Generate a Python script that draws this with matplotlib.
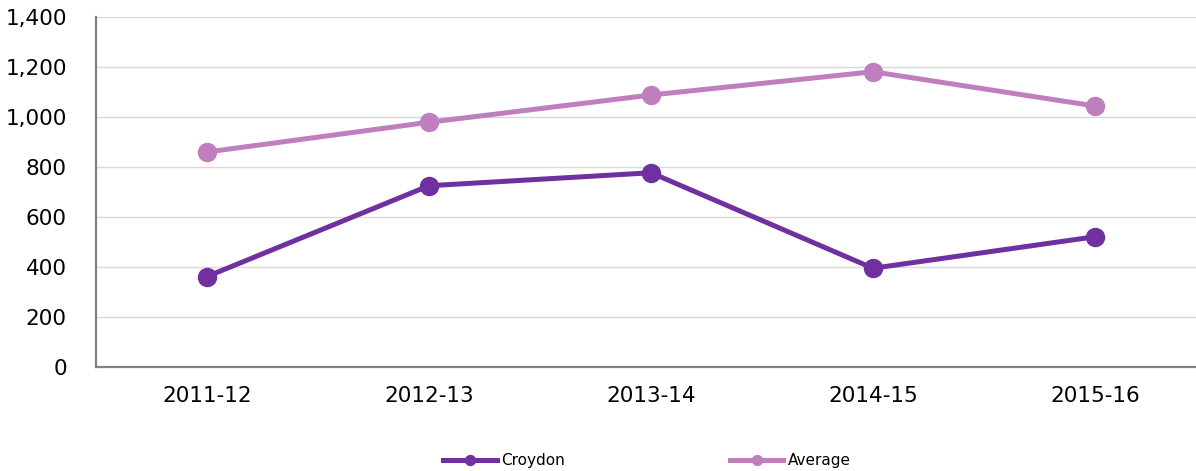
import numpy as np
import matplotlib
matplotlib.use("Agg")
import matplotlib.pyplot as plt
from matplotlib.ticker import FuncFormatter

years = ["2011-12", "2012-13", "2013-14", "2014-15", "2015-16"]
croydon = [362, 725, 777, 395, 521]
average = [860, 979, 1088, 1181, 1044]

purple = "#7030A0"
lilac = "#BF7FBF"

fig = plt.figure(figsize=(11.96, 4.71), dpi=100)
ax = fig.add_axes([96 / 1196, 1 - 367 / 471, 1110 / 1196, 350 / 471])

x = np.arange(len(years))
ax.plot(x, croydon, color=purple, lw=3.6, marker="o", ms=13, label="Croydon")
ax.plot(x, average, color=lilac, lw=3.6, marker="o", ms=13, label="Average")

ax.set_xlim(-0.5, len(years) - 0.5)
ax.set_ylim(0, 1400)
ax.set_yticks(np.arange(0, 1401, 200))
ax.yaxis.set_major_formatter(FuncFormatter(lambda v, p: f"{int(v):,}"))
ax.set_xticks(x)
ax.set_xticklabels(years)
ax.grid(axis="y", color="#d9d9d9", lw=1)
ax.set_axisbelow(True)

for s in ["top", "right"]:
    ax.spines[s].set_visible(False)
for s in ["left", "bottom"]:
    ax.spines[s].set_color("#808080")
    ax.spines[s].set_linewidth(1.6)

ax.tick_params(axis="y", length=0, pad=21, labelsize=15.5, colors="#000000")
ax.tick_params(axis="x", length=0, pad=14, labelsize=15.5, colors="#000000")

fig.legend(loc="center", bbox_to_anchor=(647 / 1196, 1 - 461 / 471), ncol=2,
           frameon=False, fontsize=11, handlelength=3.5, handletextpad=0.3,
           columnspacing=10.8, markerscale=0.55)

fig.savefig("out.png", dpi=100)
